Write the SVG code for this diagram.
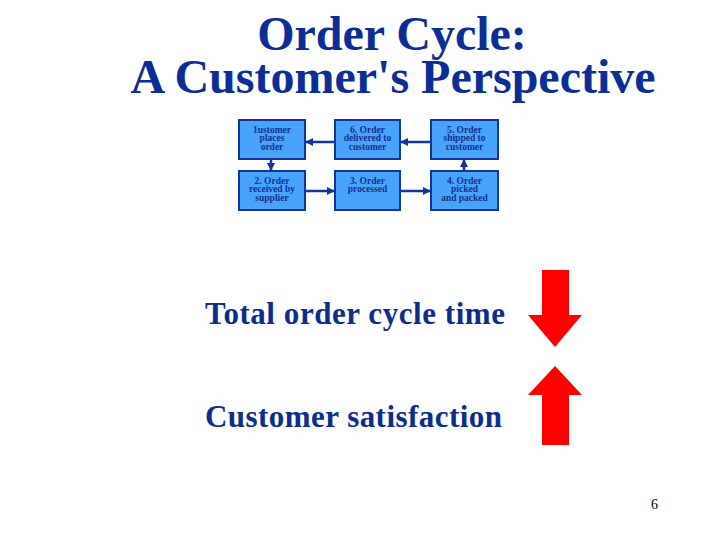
<svg xmlns="http://www.w3.org/2000/svg" width="720" height="540" viewBox="0 0 720 540">
<style>
.title{font-family:"Liberation Serif",serif;font-size:48px;font-weight:bold;fill:#0B2D96;text-anchor:middle}
.big{font-family:"Liberation Serif",serif;font-size:31px;font-weight:bold;fill:#0B2D8C}
.box{fill:#48A4FA;stroke:#14349A;stroke-width:2}
.bt{font-family:"Liberation Serif",serif;font-size:9.5px;font-weight:bold;fill:#12308F;text-anchor:middle}
.conn{stroke:#14349A;stroke-width:2.5;fill:none}
.red{fill:#FF0000}
.pg{font-family:"Liberation Serif",serif;font-size:14px;fill:#000}
</style>
<defs>
<marker id="ah" viewBox="0 0 10 10" refX="10" refY="5" markerWidth="3.2" markerHeight="3.2" orient="auto" markerUnits="strokeWidth">
<path d="M0,0 L10,5 L0,10 z" fill="#14349A"/>
</marker>
</defs>
<text class="title" x="392" y="50">Order Cycle:</text>
<text class="title" x="393" y="93">A Customer's Perspective</text>

<g id="connectors">
<line class="conn" x1="271" y1="159" x2="271" y2="171" marker-end="url(#ah)"/>
<line class="conn" x1="305" y1="191" x2="335" y2="191" marker-end="url(#ah)"/>
<line class="conn" x1="400" y1="191" x2="431" y2="191" marker-end="url(#ah)"/>
<line class="conn" x1="464" y1="171" x2="464" y2="159" marker-end="url(#ah)"/>
<line class="conn" x1="431" y1="142" x2="400" y2="142" marker-end="url(#ah)"/>
<line class="conn" x1="335" y1="142" x2="305" y2="142" marker-end="url(#ah)"/>
</g>

<g id="n1"><rect class="box" x="239" y="120" width="66" height="39"/>
<text class="bt" x="272" y="132.5">1ustomer</text><text class="bt" x="272" y="141.2">places</text><text class="bt" x="272" y="149.9">order</text></g>
<g id="n6"><rect class="box" x="335" y="120" width="65" height="39"/>
<text class="bt" x="367.5" y="132.5">6. Order</text><text class="bt" x="367.5" y="141.2">delivered to</text><text class="bt" x="367.5" y="149.9">customer</text></g>
<g id="n5"><rect class="box" x="431" y="120" width="67" height="39"/>
<text class="bt" x="464.5" y="132.5">5. Order</text><text class="bt" x="464.5" y="141.2">shipped to</text><text class="bt" x="464.5" y="149.9">customer</text></g>
<g id="n2"><rect class="box" x="239" y="171" width="66" height="39"/>
<text class="bt" x="272" y="183.5">2. Order</text><text class="bt" x="272" y="192.2">received by</text><text class="bt" x="272" y="200.9">supplier</text></g>
<g id="n3"><rect class="box" x="335" y="171" width="65" height="39"/>
<text class="bt" x="367.5" y="183.5">3. Order</text><text class="bt" x="367.5" y="192.2">processed</text></g>
<g id="n4"><rect class="box" x="431" y="171" width="67" height="39"/>
<text class="bt" x="464.5" y="183.5">4. Order</text><text class="bt" x="464.5" y="192.2">picked</text><text class="bt" x="464.5" y="200.9">and packed</text></g>

<text class="big" x="205" y="324" textLength="300" lengthAdjust="spacing">Total order cycle time</text>
<text class="big" x="205" y="427" textLength="297" lengthAdjust="spacing">Customer satisfaction</text>
<polygon class="red" points="542,270 569,270 569,315 582,315 555,347 528,315 542,315"/>
<polygon class="red" points="555,366 582,395 569,395 569,445 542,445 542,395 528,395"/>
<text class="pg" x="651" y="509">6</text>
</svg>
